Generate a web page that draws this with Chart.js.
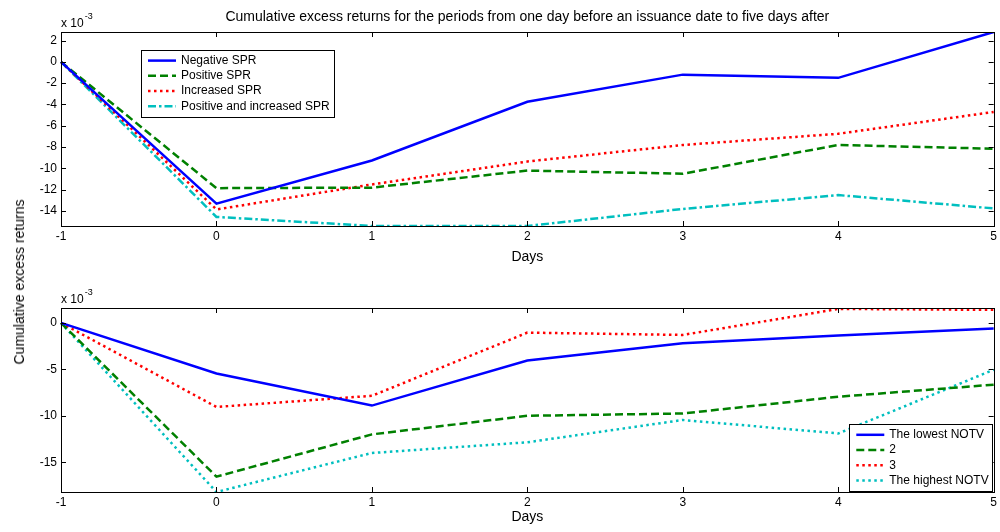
<!DOCTYPE html>
<html>
<head>
<meta charset="utf-8">
<script src="https://cdn.jsdelivr.net/npm/chart.js@4.4.1/dist/chart.umd.min.js"></script>
<style>
  body { margin: 0; background: #fff; width: 1000px; height: 532px; overflow: hidden; position: relative; font-family: "Liberation Sans", Arial, sans-serif; }
  .panel { position: absolute; left: 0; width: 1000px; height: 266px; }
  #ylab { position: absolute; left: 19px; top: 282px; transform: translate(-50%, -50%) rotate(-90deg); font-size: 14px; white-space: nowrap; color: #000; }
</style>
</head>
<body>
<div class="panel" style="top:0"><canvas id="topChart"></canvas></div>
<div class="panel" style="top:266px"><canvas id="bottomChart"></canvas></div>
<div id="ylab">Cumulative excess returns</div>

<script>
// x-axis days
const days = ["-1", "0", "1", "2", "3", "4", "5"];

// top panel (x 10^-3)
const topNames = ["Negative SPR", "Positive SPR", "Increased SPR", "Positive and increased SPR"];
const negativeSPR = [0, -13.3, -9.25, -3.75, -1.2, -1.5, 2.8];
const positiveSPR = [0, -11.85, -11.8, -10.2, -10.5, -7.8, -8.15];
const increasedSPR = [0, -13.85, -11.5, -9.35, -7.8, -6.75, -4.7];
const posIncSPR = [0, -14.55, -15.4, -15.4, -13.8, -12.5, -13.75];
const topTicks = [-14, -12, -10, -8, -6, -4, -2, 0, 2];

// bottom panel (x 10^-3)
const bottomNames = ["The lowest NOTV", "2", "3", "The highest NOTV"];
const lowestNOTV = [0, -5.45, -8.9, -4.05, -2.2, -1.35, -0.6];
const notv2 = [0, -16.55, -12.0, -10.0, -9.75, -7.95, -6.65];
const notv3 = [0, -9.05, -7.85, -1.05, -1.3, 1.5, 1.4];
const highestNOTV = [0, -18.2, -14.0, -12.85, -10.45, -11.9, -5.05];
const bottomTicks = [-15, -10, -5, 0];

const FONT = '"Liberation Sans", Arial, sans-serif';

// matlab style: box, inward ticks, exponent, title and legend inside the axes
const matlabAxes = {
  id: "matlabAxes",
  afterDatasetsDraw(chart, args, opts) {
    const { ctx, chartArea: a, scales: { x, y } } = chart;
    ctx.save();
    ctx.strokeStyle = "#000";
    ctx.lineWidth = 1;
    ctx.setLineDash([]);
    ctx.strokeRect(Math.round(a.left) + 0.5, Math.round(a.top) + 0.5, Math.round(a.width), Math.round(a.height));

    ctx.beginPath();
    x.ticks.forEach((t, i) => {
      const px = Math.round(x.getPixelForTick(i)) + 0.5;
      ctx.moveTo(px, a.bottom); ctx.lineTo(px, a.bottom - 5);
      ctx.moveTo(px, a.top); ctx.lineTo(px, a.top + 5);
    });
    y.ticks.forEach(t => {
      const py = Math.round(y.getPixelForValue(t.value)) + 0.5;
      ctx.moveTo(a.left, py); ctx.lineTo(a.left + 5, py);
      ctx.moveTo(a.right, py); ctx.lineTo(a.right - 5, py);
    });
    ctx.stroke();

    // x 10^-3
    ctx.fillStyle = "#000";
    ctx.textAlign = "left";
    ctx.textBaseline = "alphabetic";
    ctx.font = "12px " + FONT;
    ctx.fillText("x 10", a.left, a.top - 5);
    const w = ctx.measureText("x 10").width;
    ctx.font = "9px " + FONT;
    ctx.fillText("-3", a.left + w + 1, a.top - 13);

    if (opts.title) {
      ctx.font = "14px " + FONT;
      ctx.textAlign = "center";
      ctx.textBaseline = "middle";
      ctx.fillText(opts.title, (a.left + a.right) / 2, 17);
    }

    // legend
    const lg = opts.legend;
    const sets = chart.data.datasets;
    ctx.font = "12px " + FONT;
    let tw = 0;
    sets.forEach(d => { tw = Math.max(tw, ctx.measureText(d.label).width); });
    const rowH = 15.2;
    const bw = 40 + tw + 4;
    const bh = sets.length * rowH + 6;
    const bx = lg.anchor === "tl" ? a.left + lg.dx : a.right - lg.dx - bw;
    const by = lg.anchor === "tl" ? a.top + lg.dy : a.bottom - lg.dy - bh;
    ctx.fillStyle = "#fff";
    ctx.fillRect(bx, by, bw, bh);
    ctx.strokeStyle = "#000";
    ctx.lineWidth = 1;
    ctx.strokeRect(Math.round(bx) + 0.5, Math.round(by) + 0.5, Math.round(bw), Math.round(bh));
    sets.forEach((d, i) => {
      const cy = by + 3 + rowH / 2 + i * rowH;
      ctx.beginPath();
      ctx.strokeStyle = d.borderColor;
      ctx.lineWidth = d.borderWidth;
      ctx.setLineDash(d.borderDash || []);
      ctx.moveTo(bx + 7, cy); ctx.lineTo(bx + 35, cy);
      ctx.stroke();
      ctx.setLineDash([]);
      ctx.fillStyle = "#000";
      ctx.textAlign = "left";
      ctx.textBaseline = "middle";
      ctx.fillText(d.label, bx + 40, cy);
    });
    ctx.restore();
  }
};

const colors = ["#0000ff", "#008000", "#ff0000", "#00bfbf"];

function buildChart(id, names, series, dashes, yMin, yMax, yTicks, padTop, daysPad, title, legend) {
  const ctx = document.getElementById(id).getContext("2d");
  return new Chart(ctx, {
    type: "line",
    data: {
      labels: days,
      datasets: series.map((s, i) => ({
        label: names[i],
        data: s,
        borderColor: colors[i],
        backgroundColor: colors[i],
        borderWidth: 2.5,
        borderDash: dashes[i],
        borderCapStyle: "butt",
        pointRadius: 0,
        tension: 0,
        fill: false,
      })),
    },
    options: {
      responsive: true,
      maintainAspectRatio: false,
      animation: false,
      layout: { padding: { top: padTop, right: 6, left: 0, bottom: 0 } },
      plugins: {
        legend: { display: false },
        tooltip: { enabled: false },
        matlabAxes: { title: title, legend: legend },
      },
      scales: {
        x: {
          type: "category",
          offset: false,
          grid: { display: false, drawTicks: false },
          border: { display: false },
          ticks: { color: "#000", font: { family: FONT, size: 12 }, padding: 3, maxRotation: 0, autoSkip: false },
          title: { display: true, text: "Days", color: "#000", font: { family: FONT, size: 14 }, padding: { top: 0, bottom: daysPad } },
          afterFit: s => { s.height = 40; },
        },
        y: {
          min: yMin,
          max: yMax,
          grid: { display: false, drawTicks: false },
          border: { display: false },
          ticks: { color: "#000", font: { family: FONT, size: 12 }, padding: 4, includeBounds: false },
          afterBuildTicks: s => { s.ticks = yTicks.map(v => ({ value: v })); },
          afterFit: s => { s.width = 61; },
        },
      },
    },
    plugins: [matlabAxes],
  });
}

buildChart("topChart", topNames, [negativeSPR, positiveSPR, increasedSPR, posIncSPR],
  [[], [8, 4], [2.5, 3.5], [8, 3, 2.5, 3]],
  -15.4, 2.8, topTicks, 32, 0,
  "Cumulative excess returns for the periods from one day before an issuance date to five days after",
  { anchor: "tl", dx: 80, dy: 18 });

buildChart("bottomChart", bottomNames, [lowestNOTV, notv2, notv3, highestNOTV],
  [[], [8, 4], [2.5, 3.5], [2.5, 3.5]],
  -18.2, 1.6, bottomTicks, 42, 6.3,
  null,
  { anchor: "br", dx: 1, dy: 1 });
</script>
</body>
</html>
